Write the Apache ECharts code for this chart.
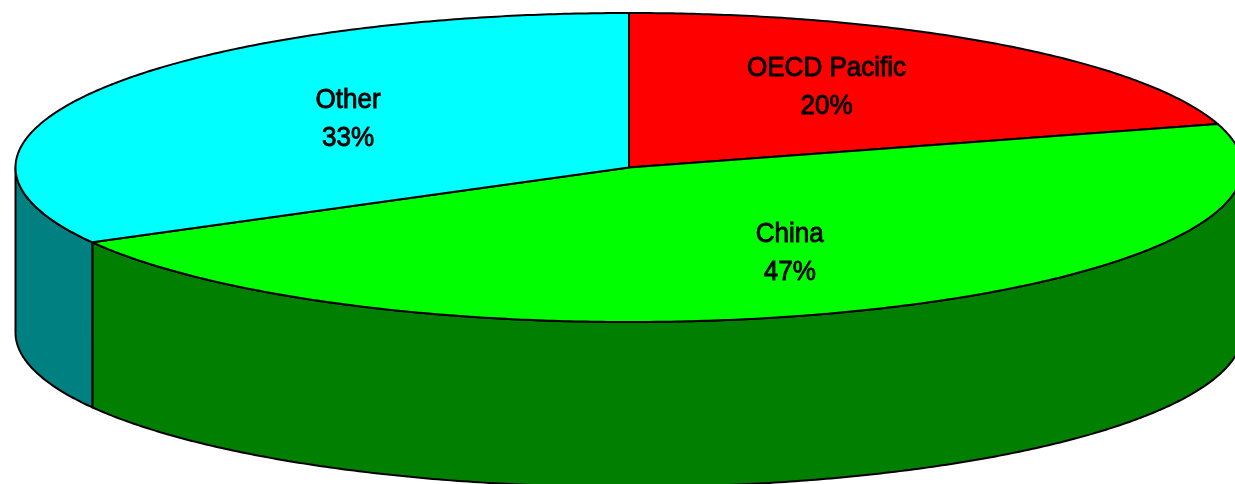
<!DOCTYPE html>
<html>
<head>
<meta charset="utf-8">
<style>html,body{margin:0;padding:0;background:#fff}#c{width:1235px;height:484px}</style>
<script src="https://cdn.jsdelivr.net/npm/echarts@6/dist/echarts.min.js"></script>
</head>
<body>
<div id="c"></div>
<script>
// Data, in drawing order clockwise from 12 o'clock
const categories = ['OECD Pacific', 'China', 'Other'];
const shares = [20.45, 46.5, 33.05];
const percentLabels = ['20%', '47%', '33%'];
// Colours
const topColors = ['#ff0000', '#00ff00', '#00ffff'];
const sideColors = ['#800000', '#007f00', '#008080'];
// Label centres as fractions of the disc radii, measured from the disc centre
const labelFx = [0.322, 0.262, -0.458];
const labelFy = [-0.521, 0.552, -0.313];

const disc = {cx: 629, cy: 167.5, rx: 613.5, ry: 154.5, depth: 165};
const total = shares.reduce((a, b) => a + b, 0);
const rim = (deg, drop) => {
  const r = deg * Math.PI / 180;
  return [disc.cx + disc.rx * Math.sin(r), disc.cy - disc.ry * Math.cos(r) + drop];
};
const arc = (a, b, drop) => {
  const n = Math.max(2, Math.ceil(Math.abs(b - a) * 2));
  const pts = [];
  for (let i = 0; i <= n; i++) pts.push(rim(a + (b - a) * i / n, drop));
  return pts;
};
const line = {stroke: '#000', lineWidth: 2, lineJoin: 'round'};

function renderItem(params, api) {
  const i = params.dataIndex;
  let before = 0;
  for (let k = 0; k < i; k++) before += shares[k];
  const start = before / total * 360;
  const end = start + api.value(1) / total * 360;
  const children = [];
  const fStart = Math.max(start, 90), fEnd = Math.min(end, 270);
  if (fEnd > fStart) {
    const upper = arc(fStart, fEnd, 0);
    const lower = arc(fEnd, fStart, disc.depth);
    children.push({type: 'polygon', shape: {points: upper.concat(lower)},
      style: Object.assign({fill: sideColors[i]}, line), z2: 1});
  }
  children.push({type: 'polygon',
    shape: {points: [[disc.cx, disc.cy]].concat(arc(start, end, 0))},
    style: Object.assign({fill: topColors[i]}, line), z2: 2});
  const lx = disc.cx + labelFx[i] * disc.rx, ly = disc.cy + labelFy[i] * disc.ry;
  [[categories[i], ly - 19], [percentLabels[i], ly + 19]].forEach(([t, y]) => {
    children.push({type: 'text', x: lx, y: y, scaleX: 0.93, z2: 3,
      style: {text: t, x: 0, y: 0, align: 'center', verticalAlign: 'middle',
        fontFamily: 'Liberation Sans', fontSize: 28, fill: '#000',
        stroke: '#000', lineWidth: 0.9}});
  });
  return {type: 'group', children: children};
}

const chart = echarts.init(document.getElementById('c'), null, {renderer: 'canvas'});
chart.setOption({
  animation: false,
  backgroundColor: '#ffffff',
  series: [{
    type: 'custom',
    coordinateSystem: 'none',
    silent: true,
    clip: false,
    renderItem: renderItem,
    data: categories.map((c, i) => [c, shares[i]])
  }]
});
</script>
</body>
</html>
